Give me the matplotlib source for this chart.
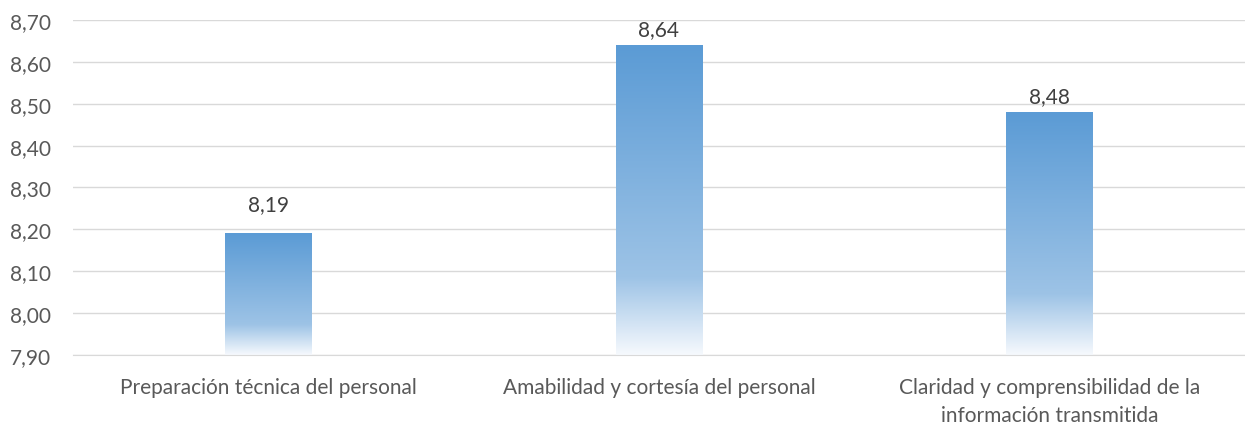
import numpy as np
import matplotlib
matplotlib.use('Agg')
import matplotlib.pyplot as plt
from matplotlib.colors import LinearSegmentedColormap

categories = ['Preparación técnica del personal',
              'Amabilidad y cortesía del personal',
              'Claridad y comprensibilidad de la\ninformación transmitida']
values = [8.19, 8.64, 8.48]
yticks = [7.90, 8.00, 8.10, 8.20, 8.30, 8.40, 8.50, 8.60, 8.70]

plt.rcParams['font.family'] = ['Lato', 'DejaVu Sans']

fig = plt.figure(figsize=(12.45, 4.27), dpi=100)
ax = fig.add_axes([0.0586, 0.1663, 0.9414, 0.7845])

# gradient like office: dark blue on top, fading to white at base
cmap = LinearSegmentedColormap.from_list('grad', [(0.0, '#F6F9FD'), (0.25, '#9DC3E6'), (1.0, '#5B9BD5')])
grad = np.linspace(0, 1, 256).reshape(-1, 1)

# label gap above each bar (points)
label_pad = [14, 4, 4]

x = np.arange(len(categories))
bars = ax.bar(x, [v - 7.9 for v in values], bottom=7.9, width=0.222, color='none')
for b, v, p in zip(bars, values, label_pad):
    x0 = b.get_x()
    ax.imshow(grad, extent=(x0, x0 + b.get_width(), 7.9, v), origin='lower',
              cmap=cmap, aspect='auto', zorder=2)
    ax.annotate('{:.2f}'.format(v).replace('.', ','), (b.get_x() + b.get_width() / 2, v),
                xytext=(0, p), textcoords='offset points',
                ha='center', va='bottom', fontsize=15, color='#404040')

ax.set_xlim(-0.5, 2.5)
ax.set_ylim(7.9, 8.7)
ax.set_yticks(yticks)
ax.set_yticklabels(['{:.2f}'.format(t).replace('.', ',') for t in yticks])
ax.set_xticks(x)
ax.set_xticklabels(categories, linespacing=1.5)
ax.grid(axis='y', color='#D9D9D9', linewidth=1)
ax.set_axisbelow(True)
for s in ['top', 'right', 'left']:
    ax.spines[s].set_visible(False)
ax.spines['bottom'].set_color('#D9D9D9')
ax.tick_params(axis='both', length=0, labelsize=15, labelcolor='#595959')
ax.tick_params(axis='y', pad=16)
ax.tick_params(axis='x', pad=16)

fig.savefig('out.png', dpi=100)
